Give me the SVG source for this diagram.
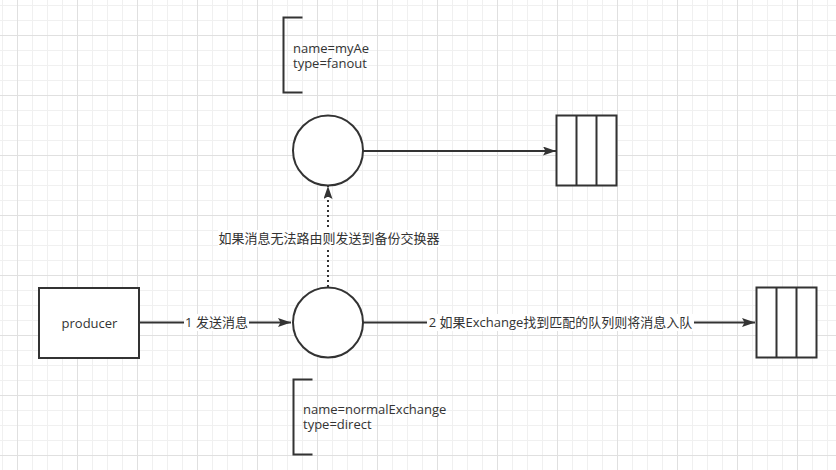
<svg xmlns="http://www.w3.org/2000/svg" width="836" height="470" viewBox="0 0 836 470">
<style>
.shape{fill:#fff;stroke:#333;stroke-width:2}
.br{fill:none;stroke:#333;stroke-width:2}
.edge{fill:none;stroke:#333;stroke-width:2}
.dot{stroke-dasharray:2 3}
text{font-family:"Open Sans","Noto Sans CJK SC",sans-serif;font-size:13px;fill:#333}
.c{text-anchor:middle}
.lblbg{fill:#fff}
</style>
<defs>
<pattern id="grid" patternUnits="userSpaceOnUse" x="17" y="35" width="60" height="60">
<path d="M15.5,0V60M30.5,0V60M45.5,0V60M0,15.5H60M0,30.5H60M0,45.5H60" stroke="#f0f0f0" stroke-width="1" fill="none"/>
<path d="M0.5,0V60M0,0.5H60" stroke="#e0e0e0" stroke-width="1" fill="none"/>
</pattern>
<marker id="arr" markerUnits="userSpaceOnUse" markerWidth="14" markerHeight="10" refX="13" refY="4.5" orient="auto">
<path d="M0,0 L13,4.5 L0,9 L2.5,4.5 Z" fill="#333"/>
</marker>
</defs>
<rect width="836" height="470" fill="#fff"/>
<rect width="836" height="470" fill="url(#grid)"/>

<g id="connectors">
<line class="edge" x1="363" y1="151" x2="556" y2="151" marker-end="url(#arr)"/>
<line class="edge dot" x1="328" y1="287" x2="328" y2="186" marker-end="url(#arr)"/>
<line class="edge" x1="140" y1="322.5" x2="291" y2="322.5" marker-end="url(#arr)"/>
<line class="edge" x1="363" y1="322.5" x2="755" y2="322.5" marker-end="url(#arr)"/>
<rect class="lblbg" x="218" y="230" width="222" height="17"/>
<text class="c" x="329" y="242.5">如果消息无法路由则发送到备份交换器</text>
<rect class="lblbg" x="184" y="314" width="65" height="17"/>
<text class="c" x="216.5" y="327">1 发送消息</text>
<rect class="lblbg" x="427" y="314" width="267" height="17"/>
<text class="c" x="560.5" y="327">2 如果Exchange找到匹配的队列则将消息入队</text>
</g>

<g id="note-top">
<path class="br" d="M302.5,17.5H283.5V92.5H302.5"/>
<text x="293" y="53">name=myAe</text>
<text x="293" y="68">type=fanout</text>
</g>

<g id="exchange-ae">
<circle class="shape" cx="328" cy="150.5" r="35"/>
</g>

<g id="queue-top">
<rect class="shape" x="556.5" y="115.5" width="60" height="70"/>
<path class="br" d="M576.5,115.5V185.5M596.5,115.5V185.5"/>
</g>

<g id="producer">
<rect class="shape" x="39" y="288" width="100" height="70"/>
<text class="c" x="89.5" y="327.5">producer</text>
</g>

<g id="exchange-normal">
<circle class="shape" cx="328" cy="322.5" r="35"/>
</g>

<g id="queue-right">
<rect class="shape" x="756.5" y="287.5" width="60" height="70"/>
<path class="br" d="M776.5,287.5V357.5M796.5,287.5V357.5"/>
</g>

<g id="note-bottom">
<path class="br" d="M312.5,379.5H293.5V454.5H312.5"/>
<text x="303" y="413.5">name=normalExchange</text>
<text x="303" y="428.5">type=direct</text>
</g>
</svg>
